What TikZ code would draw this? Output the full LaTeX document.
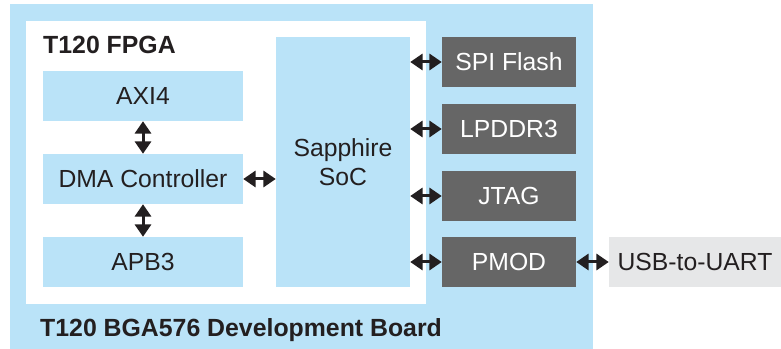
\documentclass[tikz,border=0pt]{standalone}
\usepackage{fontspec}
\setmainfont{Liberation Sans}
\usetikzlibrary{arrows.meta,positioning,calc}

\definecolor{boardblue}{HTML}{BAE3F8}
\definecolor{chipgray}{HTML}{666666}
\definecolor{hostgray}{HTML}{E6E7E8}
\definecolor{inkdark}{HTML}{231F20}

\begin{document}
\begin{tikzpicture}[x=0.03cm,y=-0.03cm,
  font=\fontsize{21.1}{24.5}\selectfont,
  block/.style={fill=boardblue,text=inkdark,minimum width=6cm,minimum height=1.5cm,inner sep=0pt},
  periph/.style={fill=chipgray,text=white,minimum width=4.02cm,minimum height=1.5cm,inner sep=0pt},
  host/.style={fill=hostgray,text=inkdark,minimum width=5.16cm,minimum height=1.5cm,inner sep=0pt},
  title/.style={font=\fontsize{21.2}{24}\selectfont\bfseries,text=inkdark,inner sep=0pt,anchor=base west},
  link/.style={draw=inkdark,line width=0.09cm,{Triangle[length=3.7mm,width=4.8mm]}-{Triangle[length=3.7mm,width=4.8mm]}}]
\useasboundingbox (0,0) rectangle (781,349);

% board and fpga outlines
\node[fill=boardblue,minimum width=17.49cm,minimum height=10.35cm,inner sep=0pt] (board) at (301.5,176.5) {};
\node[fill=white,minimum width=12cm,minimum height=8.49cm,inner sep=0pt] (fpga) at (226,162.5) {};
\node[title] (fpgalabel) at (43,54) {T120 FPGA};
\node[title] (boardlabel) at (40,337) {T120 BGA576 Development Board};

% blocks inside the fpga
\node[block] (axi) at (143,96) {AXI4};
\node[block] (dma) at (143,179) {DMA Controller};
\node[block] (apb) at (143,262) {APB3};
\node[block,minimum width=4.02cm,minimum height=7.5cm,align=center] (soc) at (343,162) {Sapphire\\SoC};

% peripherals on the board
\node[periph] (flash) at (509,62) {SPI Flash};
\node[periph] (ddr) at (509,129) {LPDDR3};
\node[periph] (jtag) at (509,196) {JTAG};
\node[periph] (pmod) at (509,262) {PMOD};
\node[host] (uart) at (695,262) {USB-to-UART};

% links
\draw[link] (axi.south) -- (dma.north);
\draw[link] (dma.south) -- (apb.north);
\draw[link] (dma.east) -- (dma.east -| soc.west);
\foreach \p in {flash,ddr,jtag,pmod}
  \draw[link] (soc.east |- \p.west) -- (\p.west);
\draw[link] (pmod.east) -- (uart.west);
\end{tikzpicture}
\end{document}
